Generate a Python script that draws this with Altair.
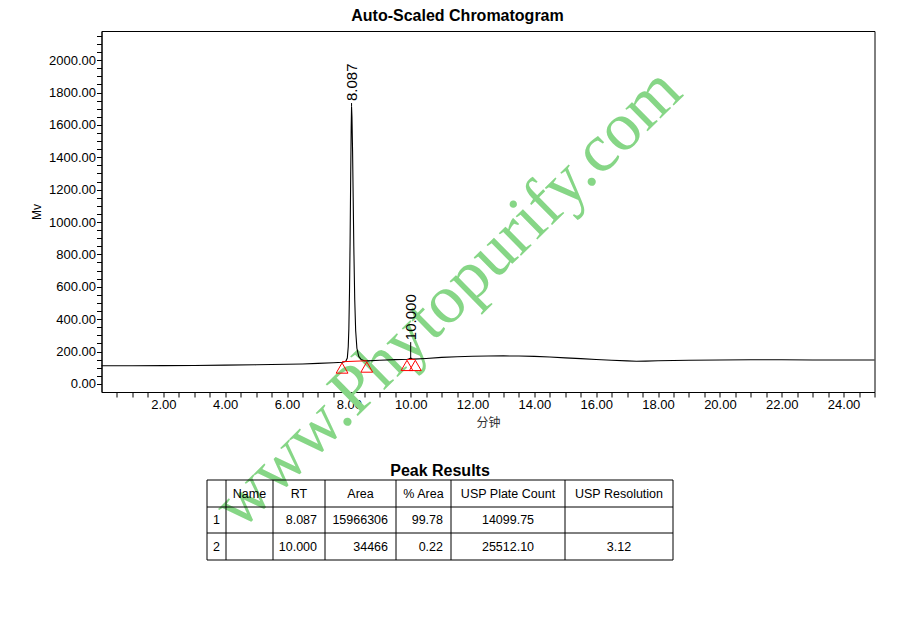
import altair as alt
import pandas as pd

# ---------------- chromatogram trace (minutes, mV) ----------------
trace_time = [0.0, 1.0, 2.0, 3.0, 4.0, 5.0, 6.0, 6.5, 7.0, 7.5, 7.8,
              7.90, 7.95, 7.98, 8.00, 8.02, 8.04, 8.06, 8.075, 8.087, 8.10, 8.12, 8.14,
              8.16, 8.19, 8.22, 8.26, 8.32, 8.40, 8.50, 8.6,
              9.0, 9.5, 9.9, 9.95, 10.0, 10.05, 10.1, 10.5, 11.0, 11.5, 12.0, 12.5, 13.0,
              13.5, 14.0, 14.5, 15.0, 15.5, 16.0, 16.5, 17.0, 17.3, 17.6, 18.0, 18.5,
              19.0, 20.0, 21.0, 22.0, 23.0, 24.0, 25.0]
trace_mv = [112, 112, 113, 114, 116, 118, 121, 123, 127, 131, 134,
            140, 160, 230, 340, 560, 880, 1300, 1580, 1712, 1650, 1440, 1150,
            850, 520, 330, 220, 170, 150, 143, 142,
            146, 150, 152, 155, 159, 155, 153, 157, 164, 168, 171, 172, 173,
            172, 170, 166, 161, 156, 151, 146, 142, 140, 141, 143, 145,
            146, 148, 149, 149, 148, 148, 148]

# peak annotations
peak_rt = [8.087, 10.000]
peak_text = ["8.087", "10.000"]
peak_apex_mv = [1712, 158]
peak_label_mv = [1735, 258]

# integration markers (red triangles) and baselines
marker_time = [7.78, 8.58, 9.88, 10.15]
marker_mv = [98, 104, 114, 114]
base_t1 = [7.78, 9.88]
base_v1 = [137, 151]
base_t2 = [8.58, 10.15]
base_v2 = [143, 152]

# axis ticks
y_tick_values = [v * 50 for v in range(0, 44)]
x_tick_values = [v * 0.5 for v in range(1, 51)]

# watermark
watermark_text = ["www.Phytopurify.com"]
watermark_t = [11.2]
watermark_mv = [530]

# ---------------- peak results table ----------------
table_headers = ["", "Name", "RT", "Area", "% Area", "USP Plate Count", "USP Resolution"]
table_row1 = ["1", "", "8.087", "15966306", "99.78", "14099.75", ""]
table_row2 = ["2", "", "10.000", "34466", "0.22", "25512.10", "3.12"]
col_widths = [19, 47, 52, 71, 55, 114, 108]
row_heights = [27, 26, 27]
value_align = ["center", "center", "right", "right", "right", "center", "center"]

FONT = "Liberation Sans"
XS = alt.Scale(domain=[0, 25], nice=False, zero=False)
YS = alt.Scale(domain=[-50, 2180], nice=False, zero=False)

trace = pd.DataFrame({"t": trace_time, "mv": trace_mv})
peaks = pd.DataFrame({"t": peak_rt, "label": peak_text, "apex": peak_apex_mv, "top": peak_label_mv})
markers = pd.DataFrame({"t": marker_time, "mv": marker_mv})
bases = pd.DataFrame({"t": base_t1, "mv": base_v1, "t2": base_t2, "mv2": base_v2})
wm = pd.DataFrame({"t": watermark_t, "mv": watermark_mv, "text": watermark_text})

watermark = alt.Chart(wm).mark_text(
    font="Liberation Serif", fontSize=69, color="#86d686", angle=315.5,
    align="center", baseline="middle"
).encode(
    x=alt.X("t:Q", scale=XS, axis=None),
    y=alt.Y("mv:Q", scale=YS, axis=None),
    text="text:N",
)

curve = alt.Chart(trace).mark_line(color="black", strokeWidth=1.1).encode(
    x=alt.X("t:Q", scale=XS, axis=alt.Axis(
        title="分钟", values=x_tick_values,
        labelExpr="datum.value % 2 == 0 ? format(datum.value, '.2f') : ''",
        tickSize=5, labelPadding=1, titlePadding=6,
        titleFont="Noto Sans CJK SC", titleFontSize=12, titleFontWeight="normal",
        titleColor="#333333", labelFlush=False, labelOverlap=False)),
    y=alt.Y("mv:Q", scale=YS, axis=alt.Axis(
        title="Mv", values=y_tick_values,
        labelExpr="datum.value % 200 == 0 ? format(datum.value, '.2f') : ''",
        tickSize=5, labelPadding=1, titlePadding=5,
        titleFont=FONT, titleFontSize=12, titleFontWeight="normal",
        titleColor="black", labelFlush=False, labelOverlap=False)),
)

base_lines = alt.Chart(bases).mark_rule(color="red", strokeWidth=1).encode(
    x=alt.X("t:Q", scale=XS, axis=None), x2="t2:Q",
    y=alt.Y("mv:Q", scale=YS, axis=None), y2="mv2:Q",
)

tri = alt.Chart(markers).mark_point(
    shape="triangle-up", filled=False, color="red", size=140, strokeWidth=1, opacity=1
).encode(
    x=alt.X("t:Q", scale=XS, axis=None),
    y=alt.Y("mv:Q", scale=YS, axis=None),
)

peak_ticks = alt.Chart(peaks).mark_rule(color="black", strokeWidth=1).encode(
    x=alt.X("t:Q", scale=XS, axis=None),
    y=alt.Y("apex:Q", scale=YS, axis=None), y2="top:Q",
)

peak_labels = alt.Chart(peaks).mark_text(
    angle=270, align="left", baseline="middle", dx=2, font=FONT, fontSize=15, color="black"
).encode(
    x=alt.X("t:Q", scale=XS, axis=None),
    y=alt.Y("top:Q", scale=YS, axis=None),
    text="label:N",
)

# ---- table geometry from the column widths / row heights ----
col_edges = [0]
for w in col_widths:
    col_edges.append(col_edges[-1] + w)
row_edges = [0]
for h in row_heights:
    row_edges.append(row_edges[-1] + h)
TW, TH = col_edges[-1], row_edges[-1]

TX = alt.Scale(domain=[0, TW], range=[105.5, 105.5 + TW], nice=False, zero=False)
TY = alt.Scale(domain=[0, TH], range=[449, 449 + TH], nice=False, zero=False)

hl = pd.DataFrame({"x": [0] * len(row_edges), "x2": [TW] * len(row_edges), "y": row_edges})
vl = pd.DataFrame({"x": col_edges, "y": [0] * len(col_edges), "y2": [TH] * len(col_edges)})

cells = []
for r, row in enumerate([table_headers, table_row1, table_row2]):
    yc = (row_edges[r] + row_edges[r + 1]) / 2
    for c, txt in enumerate(row):
        if not txt:
            continue
        al = "center" if r == 0 else value_align[c]
        if al == "center":
            xp = (col_edges[c] + col_edges[c + 1]) / 2
        else:
            xp = col_edges[c + 1] - 8
        cells.append({"x": xp, "y": yc, "text": txt, "align": al})
cells = pd.DataFrame(cells)

h_rules = alt.Chart(hl).mark_rule(color="black", strokeWidth=1).encode(
    x=alt.X("x:Q", scale=TX, axis=None), x2="x2:Q",
    y=alt.Y("y:Q", scale=TY, axis=None),
)
v_rules = alt.Chart(vl).mark_rule(color="black", strokeWidth=1).encode(
    x=alt.X("x:Q", scale=TX, axis=None),
    y=alt.Y("y:Q", scale=TY, axis=None), y2="y2:Q",
)
txt_center = alt.Chart(cells[cells["align"] == "center"]).mark_text(
    align="center", baseline="middle", font=FONT, fontSize=12.5, color="black"
).encode(
    x=alt.X("x:Q", scale=TX, axis=None),
    y=alt.Y("y:Q", scale=TY, axis=None),
    text="text:N",
)
txt_right = alt.Chart(cells[cells["align"] == "right"]).mark_text(
    align="right", baseline="middle", font=FONT, fontSize=12.5, color="black"
).encode(
    x=alt.X("x:Q", scale=TX, axis=None),
    y=alt.Y("y:Q", scale=TY, axis=None),
    text="text:N",
)
ttl = pd.DataFrame({"x": [TW / 2], "y": [-9.5], "text": ["Peak Results"]})
table_title = alt.Chart(ttl).mark_text(
    align="center", baseline="middle", font=FONT, fontSize=16, fontWeight="bold", color="black"
).encode(
    x=alt.X("x:Q", scale=TX, axis=None),
    y=alt.Y("y:Q", scale=TY, axis=None),
    text="text:N",
)

chart = alt.layer(
    watermark, curve, base_lines, tri, peak_ticks, peak_labels,
    h_rules, v_rules, txt_center, txt_right, table_title
).resolve_scale(x="independent", y="independent").properties(
    width=773, height=361,
    title=alt.TitleParams("Auto-Scaled Chromatogram", font=FONT, fontSize=16,
                          fontWeight="bold", anchor="middle", dx=-30.5, offset=5.5, color="black"),
    autosize=alt.AutoSizeParams(type="none"),
    padding={"left": 93.5, "top": 23, "right": 12, "bottom": 190},
    background="white",
).configure_view(
    stroke="black", strokeWidth=1
).configure_axis(
    grid=False, labelFont=FONT, labelFontSize=13, labelColor="black",
    tickColor="black", domainColor="black", tickWidth=1, domainWidth=1
)

chart.save("out.html", embed_options={"renderer": "svg", "actions": False})
